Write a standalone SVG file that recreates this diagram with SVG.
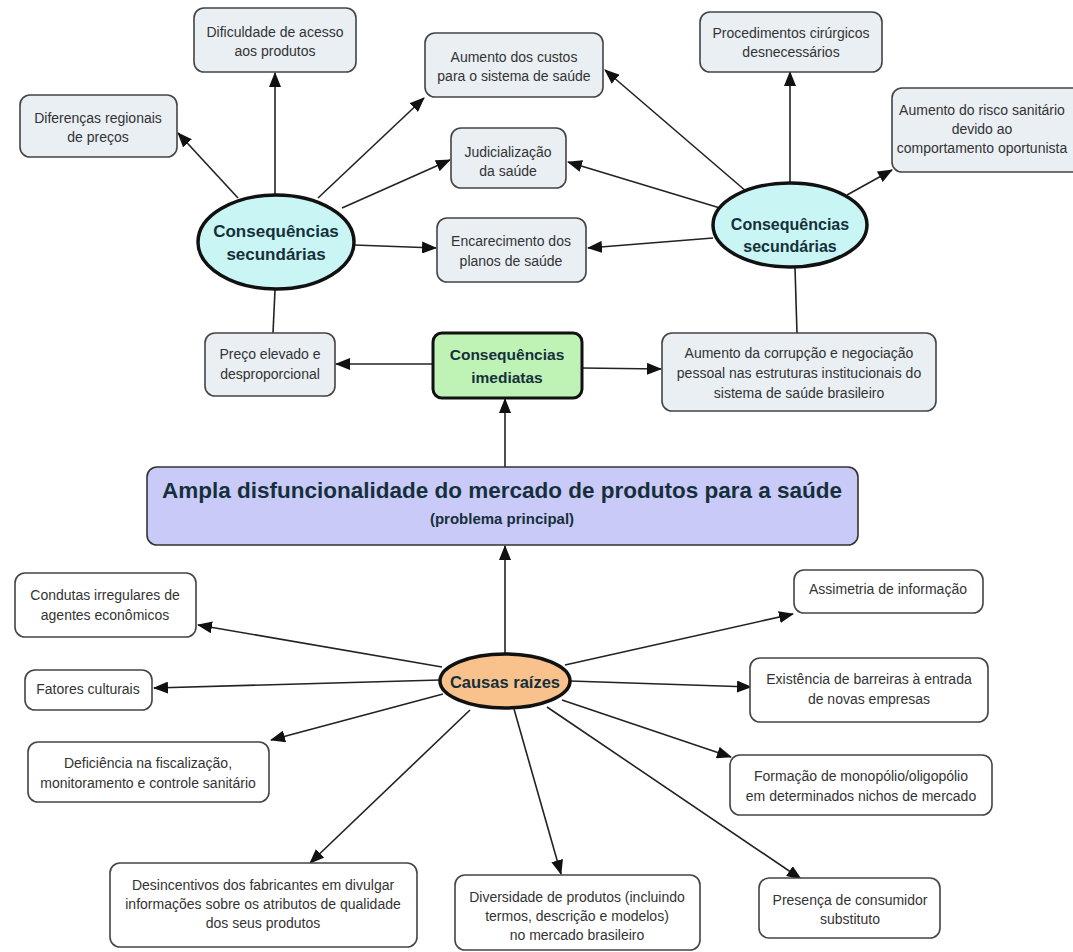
<svg xmlns="http://www.w3.org/2000/svg" width="1073" height="952" viewBox="0 0 1073 952">
<defs>
<marker id="ah" markerWidth="15" markerHeight="12" refX="14" refY="6" orient="auto" markerUnits="userSpaceOnUse">
<path d="M0,0 L15,6 L0,12 z" fill="#111"/>
</marker>
<style>
.bx{fill:#e9eff3;stroke:#444;stroke-width:1.6}
.wb{fill:#ffffff;stroke:#444;stroke-width:1.6}
.el{fill:#c9f5f5;stroke:#111;stroke-width:3.5}
.t{font-family:"Liberation Sans",Arial,sans-serif;font-size:14px;fill:#333;text-anchor:middle}
.h{font-family:"Liberation Sans",Arial,sans-serif;font-weight:bold;fill:#15303a;text-anchor:middle}
.c line{stroke:#222;stroke-width:1.6}
.c line.a{marker-end:url(#ah)}
</style>
</defs>
<rect width="1073" height="952" fill="#ffffff"/>

<g class="c" id="connectors">
<line class="a" x1="275" y1="195" x2="275" y2="73"/>
<line class="a" x1="238" y1="198" x2="178" y2="133"/>
<line class="a" x1="318" y1="198" x2="424" y2="98"/>
<line class="a" x1="342" y1="208" x2="450" y2="160"/>
<line class="a" x1="354" y1="245" x2="436" y2="248"/>
<line x1="275" y1="290" x2="273" y2="333"/>
<line class="a" x1="747" y1="192" x2="605" y2="70"/>
<line class="a" x1="720" y1="208" x2="568" y2="162"/>
<line class="a" x1="713" y1="238" x2="588" y2="248"/>
<line class="a" x1="790" y1="183" x2="790" y2="72"/>
<line class="a" x1="847" y1="195" x2="892" y2="170"/>
<line x1="795" y1="268" x2="797" y2="333"/>
<line class="a" x1="433" y1="364" x2="336" y2="364"/>
<line class="a" x1="582" y1="368" x2="661" y2="369"/>
<line class="a" x1="505" y1="467" x2="505" y2="399"/>
<line class="a" x1="505" y1="653" x2="505" y2="546"/>
<line class="a" x1="442" y1="667" x2="198" y2="625"/>
<line class="a" x1="440" y1="680" x2="154" y2="688"/>
<line class="a" x1="443" y1="694" x2="271" y2="740"/>
<line class="a" x1="470" y1="710" x2="310" y2="863"/>
<line class="a" x1="514" y1="709" x2="561" y2="874"/>
<line class="a" x1="565" y1="665" x2="793" y2="614"/>
<line class="a" x1="570" y1="681" x2="751" y2="687"/>
<line class="a" x1="562" y1="700" x2="731" y2="757"/>
<line class="a" x1="547" y1="707" x2="801" y2="879"/>
</g>

<g id="n-dificuldade"><rect class="bx" x="194" y="8" width="162" height="64" rx="10"/>
<text class="t" x="275" y="37">Dificuldade de acesso</text><text class="t" x="275" y="56">aos produtos</text></g>

<g id="n-diferencas"><rect class="bx" x="20" y="95" width="157" height="62" rx="10"/>
<text class="t" x="98" y="123">Diferenças regionais</text><text class="t" x="98" y="142">de preços</text></g>

<g id="n-custos"><rect class="bx" x="425" y="33" width="178" height="64" rx="10"/>
<text class="t" x="514" y="62">Aumento dos custos</text><text class="t" x="514" y="81">para o sistema de saúde</text></g>

<g id="n-judicializacao"><rect class="bx" x="451" y="128" width="115" height="60" rx="10"/>
<text class="t" x="508" y="157">Judicialização</text><text class="t" x="508" y="176">da saúde</text></g>

<g id="n-encarecimento"><rect class="bx" x="437" y="218" width="149" height="64" rx="10"/>
<text class="t" x="511" y="246">Encarecimento dos</text><text class="t" x="511" y="266">planos de saúde</text></g>

<g id="n-procedimentos"><rect class="bx" x="700" y="12" width="182" height="60" rx="10"/>
<text class="t" x="791" y="38">Procedimentos cirúrgicos</text><text class="t" x="791" y="57">desnecessários</text></g>

<g id="n-risco"><rect class="bx" x="892" y="88" width="200" height="84" rx="10"/>
<text class="t" x="982" y="115">Aumento do risco sanitário</text><text class="t" x="982" y="134">devido ao</text><text class="t" x="982" y="153">comportamento oportunista</text></g>

<g id="n-sec-esq"><ellipse class="el" cx="276" cy="242" rx="78" ry="47"/>
<text class="h" x="276" y="237" font-size="17">Consequências</text><text class="h" x="276" y="260" font-size="17">secundárias</text></g>

<g id="n-sec-dir"><ellipse class="el" cx="790" cy="225" rx="77" ry="42"/>
<text class="h" x="790" y="230" font-size="16">Consequências</text><text class="h" x="790" y="252" font-size="16">secundárias</text></g>

<g id="n-preco"><rect class="bx" x="205" y="333" width="130" height="63" rx="10"/>
<text class="t" x="270" y="359">Preço elevado e</text><text class="t" x="270" y="379">desproporcional</text></g>

<g id="n-imediatas"><rect x="433" y="333" width="149" height="65" rx="9" fill="#bff3b6" stroke="#111" stroke-width="3"/>
<text class="h" x="507" y="360" font-size="15.5">Consequências</text><text class="h" x="507" y="383" font-size="15.5">imediatas</text></g>

<g id="n-corrupcao"><rect class="bx" x="662" y="333" width="274" height="78" rx="10"/>
<text class="t" x="799" y="358">Aumento da corrupção e negociação</text><text class="t" x="799" y="378">pessoal nas estruturas institucionais do</text><text class="t" x="799" y="398">sistema de saúde brasileiro</text></g>

<g id="n-principal"><rect x="147" y="467" width="711" height="78" rx="10" fill="#cacaf8" stroke="#333" stroke-width="1.6"/>
<text class="h" x="502" y="498" font-size="22.5" fill="#15153a">Ampla disfuncionalidade do mercado de produtos para a saúde</text>
<text class="h" x="502" y="524" font-size="15" fill="#15153a">(problema principal)</text></g>

<g id="n-causas"><ellipse cx="505" cy="681" rx="65" ry="27" fill="#f9c28c" stroke="#111" stroke-width="3.5"/>
<text class="h" x="505" y="688" font-size="16.5" fill="#2a1a10">Causas raízes</text></g>

<g id="n-condutas"><rect class="wb" x="15" y="573" width="181" height="64" rx="10"/>
<text class="t" x="105" y="600">Condutas irregulares de</text><text class="t" x="105" y="620">agentes econômicos</text></g>

<g id="n-fatores"><rect class="wb" x="25" y="670" width="127" height="40" rx="10"/>
<text class="t" x="88" y="694">Fatores culturais</text></g>

<g id="n-deficiencia"><rect class="wb" x="28" y="742" width="241" height="60" rx="10"/>
<text class="t" x="148" y="768">Deficiência na fiscalização,</text><text class="t" x="148" y="788">monitoramento e controle sanitário</text></g>

<g id="n-desincentivos"><rect class="wb" x="110" y="863" width="307" height="84" rx="10"/>
<text class="t" x="263" y="890">Desincentivos dos fabricantes em divulgar</text><text class="t" x="263" y="909">informações sobre os atributos de qualidade</text><text class="t" x="263" y="928">dos seus produtos</text></g>

<g id="n-diversidade"><rect class="wb" x="455" y="875" width="245" height="75" rx="10"/>
<text class="t" x="577" y="902">Diversidade de produtos (incluindo</text><text class="t" x="577" y="921">termos, descrição e modelos)</text><text class="t" x="577" y="940">no mercado brasileiro</text></g>

<g id="n-assimetria"><rect class="wb" x="794" y="570" width="189" height="43" rx="10"/>
<text class="t" x="888" y="594">Assimetria de informação</text></g>

<g id="n-existencia"><rect class="wb" x="750" y="658" width="238" height="64" rx="10"/>
<text class="t" x="869" y="684">Existência de barreiras à entrada</text><text class="t" x="869" y="704">de novas empresas</text></g>

<g id="n-formacao"><rect class="wb" x="730" y="755" width="262" height="60" rx="10"/>
<text class="t" x="861" y="781">Formação de monopólio/oligopólio</text><text class="t" x="861" y="801">em determinados nichos de mercado</text></g>

<g id="n-presenca"><rect class="wb" x="759" y="878" width="181" height="60" rx="10"/>
<text class="t" x="850" y="905">Presença de consumidor</text><text class="t" x="850" y="924">substituto</text></g>
</svg>
